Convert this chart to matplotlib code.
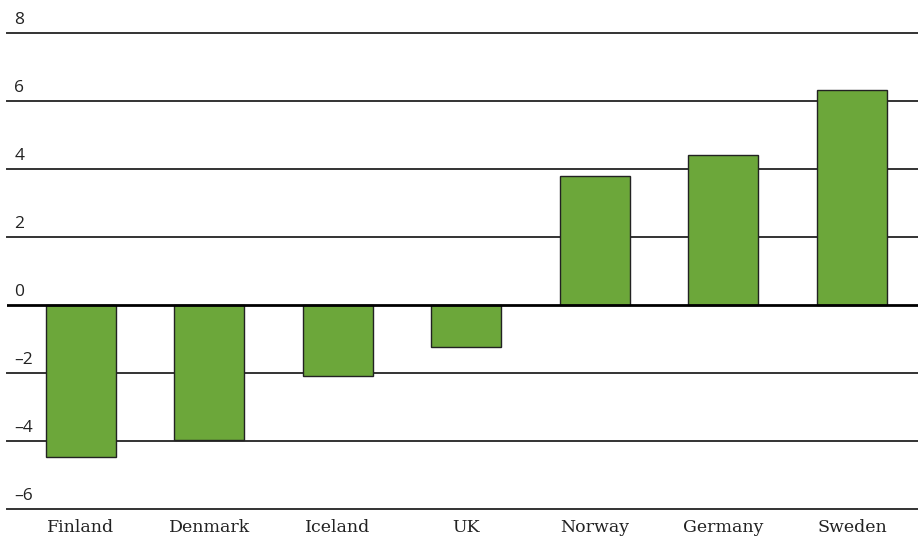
import numpy as np
import matplotlib.pyplot as plt

countries = ["Finland", "Denmark", "Iceland", "UK", "Norway", "Germany", "Sweden"]
values = [-4.47, -3.97, -2.09, -1.24, 3.79, 4.41, 6.32]
yticks = [-6, -4, -2, 0, 2, 4, 6, 8]

fig = plt.figure(figsize=(9.18, 5.45), dpi=100)
ax = fig.add_axes([0.0076, 0.066, 0.9924, 0.8734])

x = np.arange(len(countries))
ax.bar(x, values, width=0.545, color="#6ca73a", edgecolor="#222222", linewidth=1.0, zorder=3)

for t in yticks:
    if t == 0:
        ax.axhline(t, color="black", linewidth=2.0, zorder=4)
    else:
        ax.axhline(t, color="#333333", linewidth=1.4, zorder=1, clip_on=False)
    lab = str(t).replace("-", "\u2013")
    ax.text(0.008, t + 0.14, lab, transform=ax.get_yaxis_transform(),
            fontsize=12.5, family=["Open Sans", "DejaVu Sans"], color="#222222",
            ha="left", va="bottom")

ax.set_xlim(-0.576, 6.514)
ax.set_ylim(-6, 8)
ax.set_yticks([])
ax.set_xticks(x)
ax.set_xticklabels(countries, fontsize=12.5, family="DejaVu Serif", color="#222222")
ax.tick_params(axis="x", length=0, pad=7)
for s in ax.spines.values():
    s.set_visible(False)

fig.savefig("out.png")
